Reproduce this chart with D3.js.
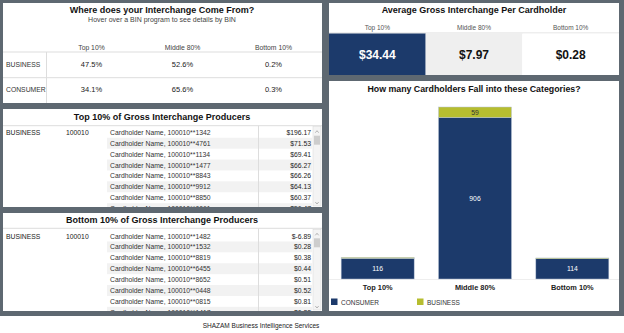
<!DOCTYPE html>
<html>
<head>
<meta charset="utf-8">
<script src="https://cdn.jsdelivr.net/npm/d3@7"></script>
<style>
  body { margin: 0; background: #fff; }
  svg { display: block; font-family: "Liberation Sans", Arial, sans-serif; }
</style>
</head>
<body>
<div id="dash"></div>
<script>
// Tier / segment labels
let tiers = ['Top 10%', 'Middle 80%', 'Bottom 10%'];
let segments = ['BUSINESS', 'CONSUMER'];

// Share of interchange by segment (%)
let businessShare = [47.5, 52.6, 0.2];
let consumerShare = [34.1, 65.6, 0.3];

// Average gross interchange per cardholder ($)
let avgPerCardholder = [34.44, 7.97, 0.28];

// Cardholder counts per tier
let consumerCount = [116, 906, 114];
let businessCount = [5, 59, 4];

// Top / bottom producers
let binProgram = '100010';
let topCards = ['1342', '4761', '1134', '1477', '8843', '9912', '8850', '0061'];
let topValues = [196.17, 71.53, 69.41, 66.27, 66.26, 64.13, 60.37, 56.47];
let bottomCards = ['1482', '1532', '8819', '6455', '8652', '0448', '0815', '1417'];
let bottomValues = [-6.89, 0.28, 0.38, 0.44, 0.51, 0.52, 0.81, 0.82];

let frameColor = '#5e6871';
let navy = '#1c3a6b';
let olive = '#b6bd2f';

let svg = d3.select('#dash').append('svg')
    .attr('width', 624)
    .attr('height', 333);

// Frame
svg.append('rect').attr('x', 0).attr('y', 0).attr('width', 624).attr('height', 316).attr('fill', frameColor);

function panel(x, y, w, h) {
    svg.append('rect').attr('x', x).attr('y', y).attr('width', w).attr('height', h).attr('fill', '#fff');
    let g = svg.append('g').attr('transform', 'translate(' + x + ',' + y + ')');
    return g;
}

function title(g, x, y, txt, size) {
    g.append('text')
        .attr('x', x).attr('y', y)
        .attr('text-anchor', 'middle')
        .attr('dominant-baseline', 'central')
        .attr('font-weight', 'bold')
        .attr('font-size', size || 9)
        .attr('fill', '#111')
        .text(txt);
}

/**
 * Panel 1: Where does your interchange come from
 */
let p1 = panel(3, 3, 319, 100);
title(p1, 159, 7, 'Where does your Interchange Come From?');
p1.append('text')
    .attr('x', 159).attr('y', 16.5)
    .attr('text-anchor', 'middle').attr('dominant-baseline', 'central')
    .attr('font-size', 7).attr('fill', '#444')
    .text('Hover over a BIN program to see details by BIN');

let colX = d3.scaleBand().domain(tiers).range([43, 316]);
p1.selectAll('.colhead').data(tiers).enter().append('text')
    .attr('x', d => colX(d) + colX.bandwidth() / 2)
    .attr('y', 44)
    .attr('text-anchor', 'middle').attr('dominant-baseline', 'central')
    .attr('font-size', 6.8).attr('fill', '#444')
    .text(d => d);

let rowY = d3.scaleBand().domain(segments).range([49, 100]);
p1.append('line').attr('x1', 0).attr('x2', 319).attr('y1', 49).attr('y2', 49).attr('stroke', '#ddd');
p1.append('line').attr('x1', 0).attr('x2', 319).attr('y1', 74.7).attr('y2', 74.7).attr('stroke', '#ddd');
p1.append('line').attr('x1', 43.5).attr('x2', 43.5).attr('y1', 49).attr('y2', 100).attr('stroke', '#ddd');

let shareRows = [businessShare, consumerShare];
segments.forEach(function(seg, i) {
    let cy = rowY(seg) + rowY.bandwidth() / 2 - 0.5;
    p1.append('text')
        .attr('x', 3).attr('y', cy)
        .attr('dominant-baseline', 'central')
        .attr('font-size', 6.8).attr('fill', '#333')
        .text(seg);
    p1.selectAll('.v' + i).data(shareRows[i]).enter().append('text')
        .attr('x', (d, j) => colX(tiers[j]) + colX.bandwidth() / 2)
        .attr('y', cy)
        .attr('text-anchor', 'middle').attr('dominant-baseline', 'central')
        .attr('font-size', 7.5).attr('fill', '#1a1a1a')
        .text(d => d.toFixed(1) + '%');
});

/**
 * Producer list panels
 */
function producerPanel(y, h, titleTxt, cards, values, titleY, sepY, firstRowY) {
    let g = panel(3, y, 319, h);
    title(g, 159, titleY, titleTxt);
    g.append('line').attr('x1', 0).attr('x2', 319).attr('y1', sepY).attr('y2', sepY).attr('stroke', '#ddd');

    let clipId = 'clip' + y;
    g.append('clipPath').attr('id', clipId)
        .append('rect').attr('x', 0).attr('y', sepY + 0.5).attr('width', 319).attr('height', h - sepY - 0.5);
    let body = g.append('g').attr('clip-path', 'url(#' + clipId + ')');

    let step = 10.9;
    let ry = d3.scaleLinear().domain([0, 1]).range([firstRowY, firstRowY + step]);

    body.selectAll('.shade').data(cards).enter().filter((d, i) => i % 2 === 1)
        .append('rect')
        .attr('x', 104).attr('width', 205)
        .attr('y', (d, i) => ry(i * 2 + 1) - step / 2)
        .attr('height', step)
        .attr('fill', '#f2f2f2');

    body.append('text').attr('x', 3).attr('y', ry(0)).attr('dominant-baseline', 'central')
        .attr('font-size', 6.8).attr('fill', '#222').text('BUSINESS');
    body.append('text').attr('x', 63).attr('y', ry(0)).attr('dominant-baseline', 'central')
        .attr('font-size', 6.8).attr('fill', '#222').text(binProgram);

    body.selectAll('.name').data(cards).enter().append('text')
        .attr('x', 107).attr('y', (d, i) => ry(i))
        .attr('dominant-baseline', 'central')
        .attr('font-size', 6.8).attr('fill', '#333')
        .text(d => 'Cardholder Name, ' + binProgram + '**' + d);

    body.selectAll('.val').data(values).enter().append('text')
        .attr('x', 308).attr('y', (d, i) => ry(i))
        .attr('text-anchor', 'end').attr('dominant-baseline', 'central')
        .attr('font-size', 6.8).attr('fill', '#222')
        .text(d => d < 0 ? '$-' + Math.abs(d).toFixed(2) : '$' + d.toFixed(2));

    g.append('line').attr('x1', 255.5).attr('x2', 255.5).attr('y1', sepY).attr('y2', h).attr('stroke', '#ddd');

    // Scrollbar
    g.append('rect').attr('x', 310).attr('y', sepY + 1).attr('width', 8).attr('height', h - sepY - 2)
        .attr('fill', '#f4f4f4').attr('stroke', '#d6d6d6').attr('stroke-width', 0.5);
    g.append('rect').attr('x', 311).attr('y', sepY + 10).attr('width', 6).attr('height', 9)
        .attr('fill', '#cdcdcd');
    g.append('path').attr('d', 'M312.3,' + (sepY + 7) + 'l1.7,-2l1.7,2')
        .attr('fill', 'none').attr('stroke', '#888').attr('stroke-width', 0.6);
    g.append('path').attr('d', 'M312.3,' + (h - 5) + 'l1.7,2l1.7,-2')
        .attr('fill', 'none').attr('stroke', '#888').attr('stroke-width', 0.6);
}

producerPanel(109, 98, 'Top 10% of Gross Interchange Producers', topCards, topValues, 8.3, 16.7, 23.3);
producerPanel(213, 98, 'Bottom 10% of Gross Interchange Producers', bottomCards, bottomValues, 6.5, 15.3, 23);

/**
 * Panel: Average gross interchange per cardholder
 */
let p4 = panel(329, 3, 290, 72);
title(p4, 145, 7, 'Average Gross Interchange Per Cardholder');
let avgX = d3.scaleBand().domain(tiers).range([0, 290]);
let cellFill = [navy, '#efefef', '#fff'];
let cellText = ['#fff', '#111', '#111'];

p4.selectAll('.avghead').data(tiers).enter().append('text')
    .attr('x', d => avgX(d) + avgX.bandwidth() / 2)
    .attr('y', 24)
    .attr('text-anchor', 'middle').attr('dominant-baseline', 'central')
    .attr('font-size', 6.5).attr('fill', '#555')
    .text(d => d);
p4.append('line').attr('x1', 0).attr('x2', 290).attr('y1', 30).attr('y2', 30).attr('stroke', '#ddd');

p4.selectAll('.avgcell').data(avgPerCardholder).enter().append('rect')
    .attr('x', (d, i) => avgX(tiers[i]))
    .attr('y', 30.5)
    .attr('width', avgX.bandwidth())
    .attr('height', 41.5)
    .attr('fill', (d, i) => cellFill[i]);

p4.selectAll('.avgval').data(avgPerCardholder).enter().append('text')
    .attr('x', (d, i) => avgX(tiers[i]) + avgX.bandwidth() / 2)
    .attr('y', 52)
    .attr('text-anchor', 'middle').attr('dominant-baseline', 'central')
    .attr('font-size', 12).attr('font-weight', 'bold')
    .attr('fill', (d, i) => cellText[i])
    .text(d => '$' + d.toFixed(2));

/**
 * Panel: stacked bars of cardholders per category
 */
let p5 = panel(329, 81, 290, 230);
title(p5, 145, 7.5, 'How many Cardholders Fall into these Categories?', 8.8);

let barData = tiers.map((t, i) => ({ tier: t, CONSUMER: consumerCount[i], BUSINESS: businessCount[i] }));
let stack = d3.stack().keys(['CONSUMER', 'BUSINESS'])(barData);

let x = d3.scaleBand().domain(tiers).range([0, 292]).paddingInner(0.25).paddingOuter(0.125);
let y = d3.scaleLinear()
    .domain([0, d3.max(barData, d => d.CONSUMER + d.BUSINESS)])
    .range([198, 26]);
let color = d3.scaleOrdinal().domain(['CONSUMER', 'BUSINESS']).range([navy, olive]);

p5.append('line').attr('x1', 0).attr('x2', 290).attr('y1', 198.5).attr('y2', 198.5).attr('stroke', '#eee');

p5.selectAll('.layer').data(stack).enter().append('g')
    .attr('fill', d => color(d.key))
    .selectAll('rect').data(d => d).enter().append('rect')
    .attr('x', d => x(d.data.tier))
    .attr('y', d => y(d[1]))
    .attr('width', x.bandwidth())
    .attr('height', d => y(d[0]) - y(d[1]))
    .attr('stroke', '#b7c3d6')
    .attr('stroke-width', 0.5);

stack.forEach(function(layer) {
    p5.selectAll('.lbl-' + layer.key).data(layer.filter(d => d[1] - d[0] > 20)).enter().append('text')
        .attr('x', d => x(d.data.tier) + x.bandwidth() / 2)
        .attr('y', d => (y(d[0]) + y(d[1])) / 2)
        .attr('text-anchor', 'middle').attr('dominant-baseline', 'central')
        .attr('font-size', 6.8)
        .attr('fill', layer.key === 'CONSUMER' ? '#fff' : '#333')
        .text(d => d[1] - d[0]);
});

let xAxis = p5.append('g').attr('transform', 'translate(0,198)')
    .call(d3.axisBottom(x).tickSize(0).tickPadding(6));
xAxis.select('.domain').remove();
xAxis.selectAll('text').attr('font-size', 7.4).attr('font-weight', 'bold').attr('fill', '#222')
    .attr('font-family', '"Liberation Sans", Arial, sans-serif');

// Legend
let legendX = d3.scaleOrdinal().domain(['CONSUMER', 'BUSINESS']).range([2, 88]);
let legend = p5.selectAll('.legend').data(['CONSUMER', 'BUSINESS']).enter().append('g')
    .attr('transform', d => 'translate(' + legendX(d) + ',221)');
legend.append('rect').attr('x', 0).attr('y', -3.5).attr('width', 6.5).attr('height', 6.5).attr('fill', d => color(d));
legend.append('text').attr('x', 10).attr('y', 0)
    .attr('dominant-baseline', 'central')
    .attr('font-size', 6.5).attr('fill', '#333')
    .text(d => d);

// Footer
svg.append('text')
    .attr('x', 261).attr('y', 325)
    .attr('text-anchor', 'middle').attr('dominant-baseline', 'central')
    .attr('font-size', 6.5).attr('fill', '#222')
    .text('SHAZAM Business Intelligence Services');
</script>
</body>
</html>
